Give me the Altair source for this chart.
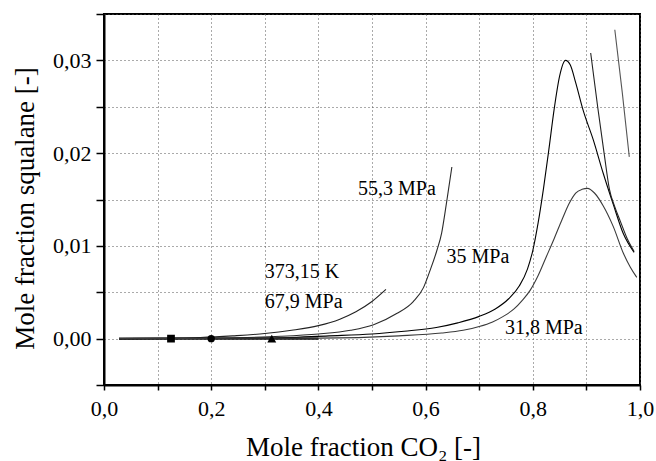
import altair as alt
import pandas as pd

FONT = "Liberation Serif"

# ---- curve data ----
base_x = [0.028, 0.40]
base_y = [0.0, 0.0]

p679_x = [0.028, 0.10, 0.18, 0.24, 0.30, 0.35, 0.40, 0.44, 0.47, 0.50, 0.526]
p679_y = [0.0, 0.00003, 0.00012, 0.0003, 0.00055, 0.0009, 0.0014, 0.0021, 0.0029, 0.0040, 0.0053]

p553_x = [0.028, 0.15, 0.25, 0.33, 0.40, 0.46, 0.503, 0.546, 0.577, 0.596, 0.608, 0.621, 0.630, 0.636, 0.642, 0.649]
p553_y = [0.0, 0.00003, 0.0001, 0.00025, 0.0005, 0.0009, 0.0015, 0.0027, 0.0040, 0.0055, 0.0073, 0.0095, 0.0114, 0.0135, 0.0158, 0.0185]

p35_x = [0.028, 0.30, 0.42, 0.50, 0.56, 0.62, 0.66, 0.70, 0.73, 0.755, 0.775, 0.79, 0.80, 0.81, 0.82,
         0.83, 0.84, 0.85, 0.861, 0.870, 0.880, 0.894, 0.913, 0.9315, 0.950, 0.969, 0.989]
p35_y = [0.0, 0.00005, 0.0003, 0.0005, 0.0008, 0.0012, 0.0017, 0.0024, 0.0032, 0.0043, 0.0057, 0.0075, 0.0095, 0.0125, 0.0162,
         0.0204, 0.0248, 0.0283, 0.0300, 0.0295, 0.0276, 0.0246, 0.0214, 0.0178, 0.0145, 0.0113, 0.0093]

p318_x = [0.028, 0.40, 0.55, 0.63, 0.67, 0.70, 0.725, 0.745, 0.765, 0.78, 0.795, 0.81, 0.825, 0.84, 0.855,
          0.868, 0.88, 0.892, 0.902, 0.915, 0.9315, 0.950, 0.969, 0.982, 0.994]
p318_y = [0.0, 0.00005, 0.0003, 0.0006, 0.0009, 0.0013, 0.0018, 0.0024, 0.0032, 0.0041, 0.0052, 0.0068, 0.0088, 0.0108, 0.0129,
          0.0146, 0.0157, 0.0161, 0.0162, 0.0157, 0.0143, 0.0121, 0.0092, 0.0077, 0.0066]

branchA_x = [0.908, 0.921, 0.933, 0.943, 0.953, 0.963, 0.976, 0.989]
branchA_y = [0.0308, 0.0250, 0.0200, 0.0161, 0.0142, 0.0127, 0.0108, 0.0094]

branchB_x = [0.953, 0.967, 0.980]
branchB_y = [0.0333, 0.0265, 0.0196]

# ---- markers ----
marker_x = [0.125, 0.2, 0.313]
marker_y = [0.0, 0.0, 0.0]

# ---- annotations ----
label_text = ["373,15 K", "67,9 MPa", "55,3 MPa", "35 MPa", "31,8 MPa"]
label_x = [0.300, 0.300, 0.474, 0.639, 0.748]
label_y = [0.0072, 0.0039, 0.0161, 0.0088, 0.00115]

# ---- ticks ----
x_ticks = [0.0, 0.1, 0.2, 0.3, 0.4, 0.5, 0.6, 0.7, 0.8, 0.9, 1.0]
y_ticks = [-0.005, 0.0, 0.005, 0.01, 0.015, 0.02, 0.025, 0.03, 0.035]

xscale = alt.Scale(domain=[0, 1], nice=False, zero=False)
yscale = alt.Scale(domain=[-0.005, 0.035], nice=False, zero=False)

x_major = "abs(datum.value*5 - round(datum.value*5)) < 0.001"
y_major = "abs(datum.value*100 - round(datum.value*100)) < 0.001"

x_axis = alt.Axis(
    values=x_ticks,
    title="Mole fraction CO₂ [-]",
    labelExpr=f"{x_major} ? replace(format(datum.value, '.1f'), '.', ',') : ''",
    labelFont=FONT, labelFontSize=22, labelColor="black",
    labelPadding=8, labelOverlap=False, labelFlush=False,
    tickSize=5, tickColor="black", tickWidth=1.5,
    domainColor="black", domainWidth=2,
    grid=True, gridColor="#555555", gridDash=[1, 3], gridWidth=1,
    titleFont=FONT, titleFontSize=27, titleFontWeight="normal", titleColor="black",
    titleX=259, titleY=70, titleBaseline="alphabetic", titleAlign="center",
)
y_axis = alt.Axis(
    values=y_ticks,
    title="Mole fraction squalane [-]",
    labelExpr=f"{y_major} ? replace(format(datum.value, '.2f'), '.', ',') : ''",
    labelFont=FONT, labelFontSize=22, labelColor="black",
    labelPadding=5, labelOverlap=False, labelFlush=False,
    tickSize=8, tickColor="black", tickWidth=1.5,
    domainColor="black", domainWidth=2,
    grid=True, gridColor="#555555", gridDash=[1, 3], gridWidth=1,
    titleFont=FONT, titleFontSize=27, titleFontWeight="normal", titleColor="black",
    titleX=-71, titleY=194, titleAngle=270, titleBaseline="alphabetic", titleAlign="center",
)


def curve(xs, ys, color, width):
    d = pd.DataFrame({"x": xs, "y": ys, "i": list(range(len(xs)))})
    return alt.Chart(d).mark_line(interpolate="monotone", color=color, strokeWidth=width).encode(
        order="i:Q",
    )


layers = [
    curve(base_x, base_y, "#111111", 2.2),
    curve(p679_x, p679_y, "#222222", 1.1),
    curve(p553_x, p553_y, "#2a2a2a", 1.1),
    curve(p35_x, p35_y, "#000000", 1.1),
    curve(p318_x, p318_y, "#3a3a3a", 1.1),
    curve(branchA_x, branchA_y, "#222222", 1.1),
    curve(branchB_x, branchB_y, "#555555", 1.1),
]

shapes = ["square", "circle", "triangle-up"]
sizes = [60, 55, 80]
for k in range(3):
    dm = pd.DataFrame({"x": [marker_x[k]], "y": [marker_y[k]]})
    layers.append(
        alt.Chart(dm).mark_point(filled=True, opacity=1, color="black", shape=shapes[k], size=sizes[k])
    )

df_t = pd.DataFrame({"t": label_text, "x": label_x, "y": label_y})
layers.append(
    alt.Chart(df_t).mark_text(align="left", baseline="middle", font=FONT, fontSize=20, color="black").encode(
        text="t:N",
    )
)

chart = alt.layer(*layers).encode(
    x=alt.X("x:Q", scale=xscale, axis=x_axis),
    y=alt.Y("y:Q", scale=yscale, axis=y_axis),
).properties(
    width=536, height=371,
    padding={"left": 104, "top": 14, "right": 16, "bottom": 76},
    autosize=alt.AutoSizeParams(type="none"),
    background="white",
).configure_view(stroke="black", strokeWidth=2)

chart.save("out.html", embed_options={"renderer": "svg", "actions": False})
